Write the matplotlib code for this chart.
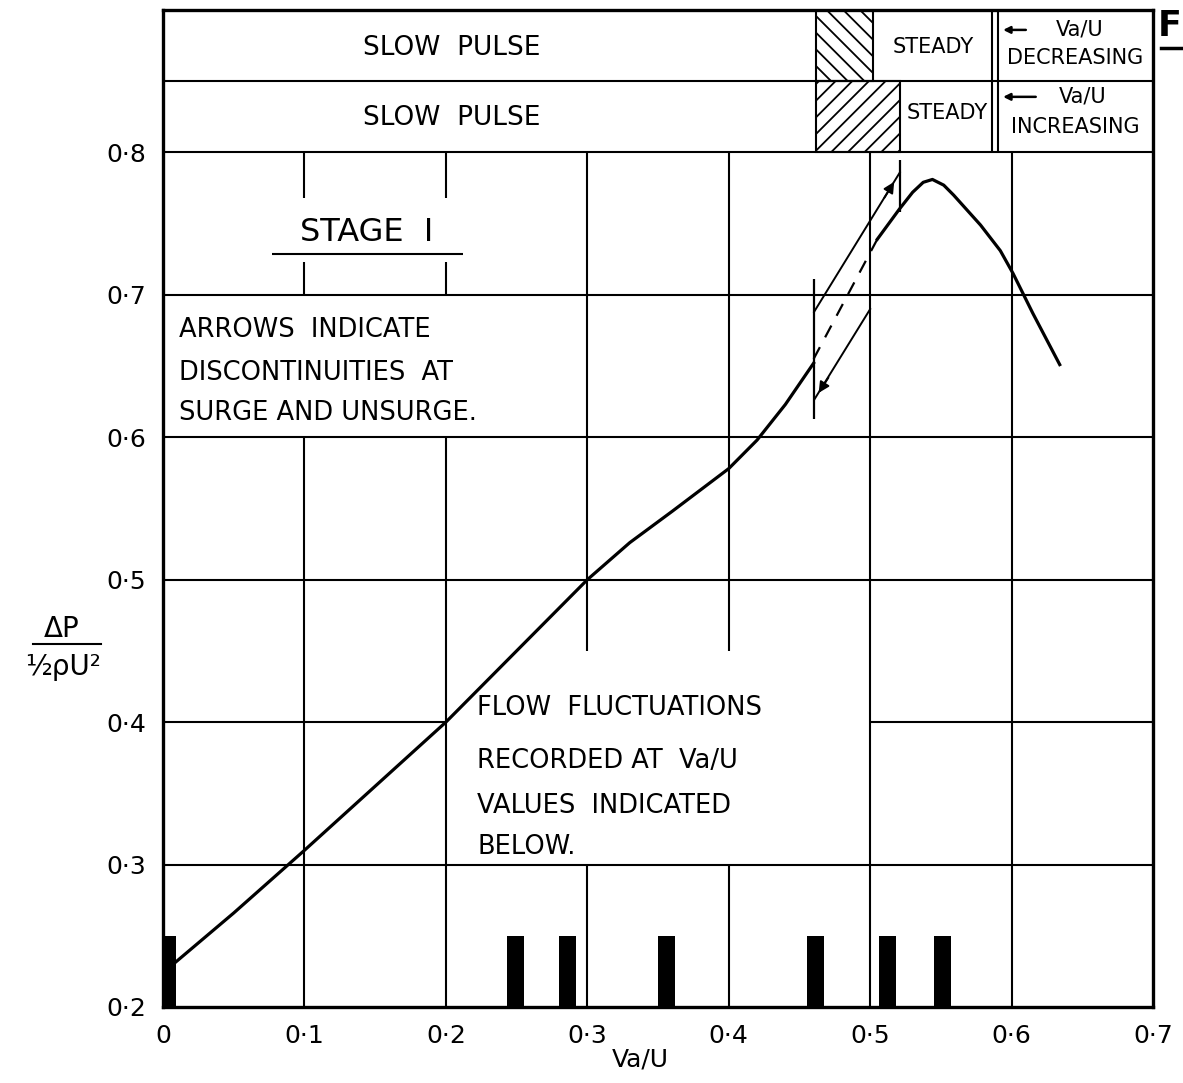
import matplotlib.pyplot as plt
from matplotlib.patches import Rectangle
from matplotlib.lines import Line2D

# curve: lower branch (stage I up to surge) and upper branch
low_x = [0, 0.05, 0.1, 0.15, 0.2, 0.25, 0.3, 0.33, 0.36, 0.38, 0.4, 0.42, 0.44, 0.46]
low_y = [0.224, 0.266, 0.31, 0.355, 0.40, 0.45, 0.50, 0.526, 0.548, 0.563, 0.578, 0.598, 0.623, 0.652]
up_x = [0.505, 0.5205, 0.53, 0.5375, 0.544, 0.552, 0.559, 0.578, 0.592, 0.601, 0.615, 0.634]
up_y = [0.739, 0.760, 0.772, 0.779, 0.781, 0.777, 0.770, 0.749, 0.731, 0.715, 0.687, 0.651]

# dashed link between branches
dash_x = [0.46, 0.505]
dash_y = [0.655, 0.739]
# surge (up) and unsurge (down) arrows
surge_x = [0.4603, 0.521]
surge_y = [0.688, 0.786]
unsurge_x = [0.5, 0.4605]
unsurge_y = [0.69, 0.6265]
# short vertical markers at the jumps
mark_x = [0.46, 0.521]
mark_lo = [0.613, 0.758]
mark_hi = [0.711, 0.795]

# Va/U values where flow fluctuations were recorded
rec_x = [0.003, 0.249, 0.286, 0.356, 0.461, 0.512, 0.551]
rec_top = 0.25

# flow regime bands (decreasing = upper row, increasing = lower row)
dec_hatch = (0.4618, 0.5021)
inc_hatch = (0.4618, 0.521)
steady_end = 0.5864

xticks = [0, 0.1, 0.2, 0.3, 0.4, 0.5, 0.6, 0.7]
xlabels = ['0', '0·1', '0·2', '0·3', '0·4', '0·5', '0·6', '0·7']
yticks = [0.2, 0.3, 0.4, 0.5, 0.6, 0.7, 0.8]
ylabels = ['0·2', '0·3', '0·4', '0·5', '0·6', '0·7', '0·8']

plt.rcParams['hatch.linewidth'] = 1.3

fig = plt.figure(figsize=(11.83, 10.83), dpi=100)
ax = fig.add_axes([0.1378, 0.0702, 0.8369, 0.9206])
ax.set_xlim(0, 0.7)
ax.set_ylim(0.2, 0.9)

# grid drawn by hand so it can stop behind the notes
glw = 1.5
def seg(xs, ys):
    ax.plot(xs, ys, color='black', lw=glw, solid_capstyle='butt')

for yy in [0.3, 0.5, 0.6, 0.7, 0.8, 0.85]:
    seg([0, 0.7], [yy, yy])
seg([0, 0.2], [0.4, 0.4])
seg([0.5, 0.7], [0.4, 0.4])
for xx in [0.1, 0.2]:
    seg([xx, xx], [0.2, 0.6])
    seg([xx, xx], [0.7, 0.723])
    seg([xx, xx], [0.768, 0.8])
for xx in [0.3, 0.4]:
    seg([xx, xx], [0.2, 0.3])
    seg([xx, xx], [0.45, 0.8])
for xx in [0.5, 0.6]:
    seg([xx, xx], [0.2, 0.8])

# bands on top
ax.add_patch(Rectangle((dec_hatch[0], 0.85), dec_hatch[1] - dec_hatch[0], 0.05,
                       fill=False, hatch='\\\\', lw=glw, ec='black'))
ax.add_patch(Rectangle((inc_hatch[0], 0.8), inc_hatch[1] - inc_hatch[0], 0.05,
                       fill=False, hatch='//', lw=glw, ec='black'))
seg([steady_end, steady_end], [0.8, 0.9])
seg([steady_end + 0.004, steady_end + 0.004], [0.8, 0.9])

bfont = dict(fontsize=19, ha='center', va='center')
sfont = dict(fontsize=15, ha='center', va='center')
ax.text(0.204, 0.873, 'SLOW  PULSE', **bfont)
ax.text(0.204, 0.824, 'SLOW  PULSE', **bfont)
ax.text(0.5445, 0.874, 'STEADY', **sfont)
ax.text(0.5545, 0.828, 'STEADY', **sfont)
ax.text(0.648, 0.886, 'Va/U', **sfont)
ax.text(0.645, 0.866, 'DECREASING', **sfont)
ax.text(0.650, 0.839, 'Va/U', **sfont)
ax.text(0.645, 0.818, 'INCREASING', **sfont)
ax.annotate('', xy=(0.592, 0.886), xytext=(0.612, 0.886),
            arrowprops=dict(arrowstyle='-|>', color='black', lw=1.8,
                            mutation_scale=10))
ax.annotate('', xy=(0.592, 0.839), xytext=(0.619, 0.839),
            arrowprops=dict(arrowstyle='-|>', color='black', lw=1.8,
                            mutation_scale=10))

# the curve
ax.plot(low_x, low_y, color='black', lw=2.3, solid_joinstyle='round')
ax.plot(up_x, up_y, color='black', lw=2.3, solid_joinstyle='round')
ax.plot(dash_x, dash_y, color='black', lw=1.6, ls=(0, (6, 5)))
ax.plot(surge_x, surge_y, color='black', lw=1.4)
ax.plot(unsurge_x, unsurge_y, color='black', lw=1.4)
ax.vlines(mark_x, mark_lo, mark_hi, color='black', lw=1.6)
ax.annotate('', xy=(surge_x[1] - 0.003, surge_y[1] - 0.005),
            xytext=(surge_x[1] - 0.012, surge_y[1] - 0.0195),
            arrowprops=dict(arrowstyle='-|>', color='black', lw=1.4,
                            mutation_scale=16))
ax.annotate('', xy=(unsurge_x[1] + 0.002, unsurge_y[1] + 0.003),
            xytext=(unsurge_x[1] + 0.011, unsurge_y[1] + 0.017),
            arrowprops=dict(arrowstyle='-|>', color='black', lw=1.4,
                            mutation_scale=16))

# recorded fluctuation points
ax.bar(rec_x, [rec_top - 0.2] * len(rec_x), bottom=0.2, width=0.012,
       color='black', zorder=3)

# notes
ax.text(0.144, 0.7435, 'STAGE  I', fontsize=23, ha='center', va='center')
seg([0.077, 0.212], [0.729, 0.729])
nfont = dict(fontsize=18.5, ha='left', va='center')
ax.text(0.011, 0.675, 'ARROWS  INDICATE', **nfont)
ax.text(0.011, 0.645, 'DISCONTINUITIES  AT', **nfont)
ax.text(0.011, 0.617, 'SURGE AND UNSURGE.', **nfont)
ax.text(0.222, 0.410, 'FLOW  FLUCTUATIONS', **nfont)
ax.text(0.222, 0.373, 'RECORDED AT  Va/U', **nfont)
ax.text(0.222, 0.341, 'VALUES  INDICATED', **nfont)
ax.text(0.222, 0.312, 'BELOW.', **nfont)

# axes
for sp in ax.spines.values():
    sp.set_linewidth(2.4)
ax.set_xticks(xticks)
ax.set_xticklabels(xlabels, fontsize=18)
ax.set_yticks(yticks)
ax.set_yticklabels(ylabels, fontsize=18)
ax.tick_params(length=0, pad=12)
ax.set_xlabel('Va/U', fontsize=18)
ax.xaxis.set_label_coords(0.482, -0.041)

# y label as hand written fraction
fig.text(0.052, 0.419, 'ΔP', fontsize=20, ha='center', va='center')
fig.add_artist(Line2D([0.028, 0.085], [0.405, 0.405], color='black', lw=1.5))
fig.text(0.053, 0.384, '½ρU²', fontsize=20, ha='center', va='center')

fig.text(0.979, 0.976, 'F', fontsize=25, fontweight='bold', ha='left', va='center')
fig.add_artist(Line2D([0.981, 1.0], [0.956, 0.956], color='black', lw=2.5))

fig.savefig('out.png', dpi=100)
